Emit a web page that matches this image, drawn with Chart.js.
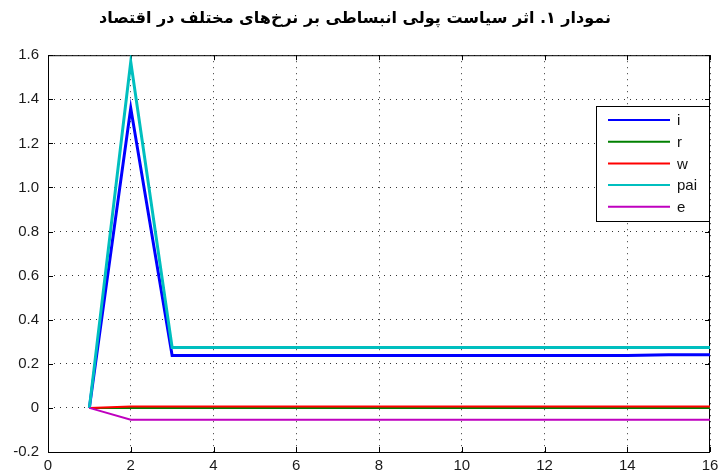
<!DOCTYPE html>
<html><head><meta charset="utf-8">
<script src="https://cdn.jsdelivr.net/npm/chart.js@4/dist/chart.umd.min.js"></script>
<style>html,body{margin:0;padding:0;background:#fff;}#wrap{width:720px;height:473px;position:relative;}</style>
</head><body><div id="wrap"><canvas id="c"></canvas></div>
<script>
const titleText = 'نمودار ۱. اثر سیاست پولی انبساطی بر نرخ‌های مختلف در اقتصاد';
const periods = [1,2,3,4,5,6,7,8,9,10,11,12,13,14,15,16];
const seriesI   = [0,1.36,0.238,0.238,0.238,0.238,0.238,0.238,0.238,0.238,0.238,0.238,0.238,0.238,0.241,0.241];
const seriesR   = [0,0,0,0,0,0,0,0,0,0,0,0,0,0,0,0];
const seriesW   = [0,0.006,0.006,0.006,0.006,0.006,0.006,0.006,0.006,0.006,0.006,0.006,0.006,0.006,0.006,0.006];
const seriesPai = [0,1.57,0.274,0.274,0.274,0.274,0.274,0.274,0.274,0.274,0.274,0.274,0.274,0.274,0.274,0.274];
const seriesE   = [0,-0.054,-0.054,-0.054,-0.054,-0.054,-0.054,-0.054,-0.054,-0.054,-0.054,-0.054,-0.054,-0.054,-0.054,-0.054];
const seriesNames = ['i','r','w','pai','e'];
const xTickValues = [0,2,4,6,8,10,12,14,16];
const yTickValues = [-0.2,0,0.2,0.4,0.6,0.8,1,1.2,1.4,1.6];

const allSeries = [seriesI, seriesR, seriesW, seriesPai, seriesE];
const colors = ['#0000FF','#008000','#FF0000','#00BFBF','#BF00BF'];
const widths = [3,2,2,3,2];

const datasets = allSeries.map((s, k) => ({
  label: seriesNames[k],
  data: s.map((v, j) => ({x: periods[j], y: v})),
  borderColor: colors[k],
  backgroundColor: colors[k],
  borderWidth: widths[k],
  pointRadius: 0,
  tension: 0,
  fill: false,
  order: allSeries.length - k
}));

const tickFont = {family: '"Liberation Sans", Arial, sans-serif', size: 15};

const framePlugin = {
  id: 'frame',
  beforeDatasetsDraw(chart) {
    const {ctx, chartArea: a, scales: {x, y}} = chart;
    ctx.save();
    ctx.strokeStyle = '#000';
    ctx.lineWidth = 1;
    ctx.strokeRect(a.left + 0.5, a.top + 0.5, a.right - a.left - 1, a.bottom - a.top);
    const L = 5;
    ctx.beginPath();
    xTickValues.forEach(v => {
      const px = Math.round(x.getPixelForValue(v)) + 0.5;
      ctx.moveTo(px, a.bottom); ctx.lineTo(px, a.bottom - L);
      ctx.moveTo(px, a.top); ctx.lineTo(px, a.top + L);
    });
    yTickValues.forEach(v => {
      const py = Math.round(y.getPixelForValue(v)) + 0.5;
      ctx.moveTo(a.left, py); ctx.lineTo(a.left + L, py);
      ctx.moveTo(a.right, py); ctx.lineTo(a.right - L, py);
    });
    ctx.stroke();
    ctx.restore();
  },
  afterDraw(chart) {
    const {ctx, chartArea: a} = chart;
    const bx = 596, by = 106, bw = a.right - 596, bh = 115;
    ctx.save();
    ctx.fillStyle = '#fff';
    ctx.fillRect(bx, by, bw, bh);
    ctx.strokeStyle = '#000';
    ctx.lineWidth = 1;
    ctx.strokeRect(bx + 0.5, by + 0.5, bw - 1, bh);
    ctx.font = '15px "Liberation Sans", Arial, sans-serif';
    ctx.textBaseline = 'middle';
    ctx.fillStyle = '#111';
    seriesNames.forEach((n, k) => {
      const yy = by + 14 + k * 21.7;
      ctx.strokeStyle = colors[k];
      ctx.lineWidth = 2;
      ctx.beginPath();
      ctx.moveTo(608, yy); ctx.lineTo(670, yy);
      ctx.stroke();
      ctx.fillText(n, 677, yy + 1);
    });
    ctx.restore();
  }
};

new Chart(document.getElementById('c'), {
  type: 'line',
  data: {datasets},
  plugins: [framePlugin],
  options: {
    responsive: true,
    maintainAspectRatio: false,
    animation: false,
    layout: {padding: {left: 0, right: 10, top: 0, bottom: 0}},
    plugins: {
      legend: {display: false},
      tooltip: {enabled: false},
      title: {
        display: true,
        text: titleText,
        color: '#000',
        font: {family: '"DejaVu Sans", sans-serif', size: 16, weight: 'bold'},
        padding: {top: 9, bottom: 27}
      }
    },
    scales: {
      x: {
        type: 'linear', min: 0, max: 16,
        afterBuildTicks: s => { s.ticks = xTickValues.map(v => ({value: v})); },
        afterFit: s => { s.height = 21; },
        ticks: {font: tickFont, color: '#1a1a1a', padding: 1, maxRotation: 0, autoSkip: false},
        grid: {color: '#333', drawTicks: true, tickLength: 4, tickColor: 'rgba(0,0,0,0)', lineWidth: 1},
        border: {display: false, dash: [1, 5]}
      },
      y: {
        type: 'linear', min: -0.2, max: 1.6,
        afterBuildTicks: s => { s.ticks = yTickValues.map(v => ({value: v})); },
        afterFit: s => { s.width = 48; },
        ticks: {font: tickFont, color: '#1a1a1a', padding: 9, autoSkip: false},
        grid: {color: '#333', drawTicks: false, lineWidth: 1},
        border: {display: false, dash: [1, 5]}
      }
    }
  }
});
</script></body></html>
